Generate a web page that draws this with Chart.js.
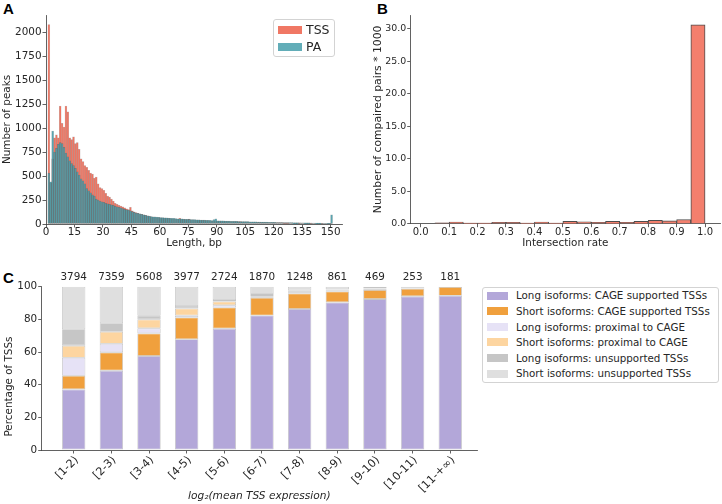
<!DOCTYPE html>
<html>
<head>
<meta charset="utf-8">
<script src="https://cdn.jsdelivr.net/npm/chart.js@4.4.1/dist/chart.umd.min.js"></script>
<style>
body { margin: 0; background: #fff; width: 722px; height: 504px; position: relative; overflow: hidden;
       font-family: 'DejaVu Sans', sans-serif; color: #262626; }
canvas { position: absolute; }
.panel { position: absolute; font: bold 15px 'Liberation Sans', Arial, sans-serif; line-height: 15px; color: #000; }
.legend { position: absolute; background: rgba(255,255,255,0.85); border: 1px solid #d3d3d3; border-radius: 3px; box-sizing: border-box; }
.legend .sw { position: absolute; }
.legend .txt { position: absolute; white-space: nowrap; }
</style>
</head>
<body>
<div class="panel" style="left:3px;top:1px">A</div>
<div class="panel" style="left:377px;top:1px">B</div>
<div class="panel" style="left:3px;top:270px">C</div>

<canvas id="chartA" width="360" height="250" style="left:0;top:0"></canvas>
<canvas id="chartB" width="362" height="250" style="left:360px;top:0"></canvas>
<canvas id="chartC" width="482" height="254" style="left:0;top:250px"></canvas>

<div id="legendA" class="legend" style="left:273px;top:19px;width:62px;height:38px"></div>
<div id="legendC" class="legend" style="left:482px;top:287px;width:237px;height:96px"></div>

<script>
// ---- panel A: peak length histogram (1 bp bins, first bin starts at 1 bp)
const firstLength = 1;
const lengthTicks = [0, 15, 30, 45, 60, 75, 90, 105, 120, 135, 150];
const peakTicks = [0, 250, 500, 750, 1000, 1250, 1500, 1750, 2000];

const tssPeaks = [
    2080, 430, 680, 900, 930, 900, 1230, 1050, 1010, 1230,
    1170, 900, 880, 910, 840, 850, 780, 680, 650, 610,
    590, 560, 530, 520, 480, 490, 420, 380, 370, 350,
    320, 290, 280, 260, 240, 215, 205, 195, 188, 178,
    168, 158, 150, 175, 138, 128, 120, 112, 106, 100,
    96, 90, 85, 80, 76, 73, 70, 68, 66, 64,
    62, 61, 60, 58, 56, 55, 54, 52, 51, 58,
    50, 48, 47, 46, 52, 44, 43, 42, 41, 40,
    39, 38, 37, 36, 35, 34, 33, 32, 32, 31,
    30, 30, 29, 28, 28, 27, 26, 26, 25, 25,
    24, 24, 23, 23, 22, 22, 21, 21, 20, 20,
    19, 19, 18, 18, 17, 17, 16, 16, 16, 15,
    15, 14, 14, 14, 13, 13, 13, 12, 12, 12,
    11, 11, 11, 10, 10, 10, 9, 9, 9, 8,
    8, 8, 7, 7, 7, 6, 6, 6, 5, 4
];
const paPeaks = [
    530, 440, 970, 750, 790, 830, 850, 840, 800, 740,
    700, 660, 630, 610, 580, 545, 510, 470, 450, 420,
    370, 345, 325, 305, 290, 260, 250, 240, 232, 225,
    215, 210, 205, 200, 195, 185, 180, 174, 168, 160,
    152, 148, 145, 138, 130, 122, 115, 110, 105, 100,
    95, 90, 86, 82, 78, 76, 74, 72, 70, 68,
    67, 65, 64, 62, 60, 59, 58, 57, 55, 54,
    53, 52, 50, 49, 48, 47, 46, 45, 44, 43,
    42, 41, 40, 39, 38, 37, 36, 45, 55, 34,
    33, 33, 32, 31, 30, 30, 29, 28, 28, 27,
    26, 26, 25, 25, 24, 24, 23, 23, 22, 22,
    21, 21, 20, 20, 19, 19, 18, 18, 17, 17,
    16, 16, 16, 15, 15, 15, 14, 14, 14, 13,
    13, 13, 12, 12, 12, 11, 11, 11, 10, 10,
    10, 9, 9, 9, 8, 8, 8, 7, 7, 95
];

// ---- panel B: intersection rate histogram (bins of 0.05), thousands of pairs
const rateBinStarts = [0.00, 0.05, 0.10, 0.15, 0.20, 0.25, 0.30, 0.35, 0.40, 0.45,
                       0.50, 0.55, 0.60, 0.65, 0.70, 0.75, 0.80, 0.85, 0.90, 0.95];
const rateBinWidth = 0.05;
const pairCounts = [0, 0.15, 0.25, 0.10, 0.10, 0.20, 0.20, 0.10, 0.25, 0.10,
                    0.35, 0.30, 0.20, 0.35, 0.20, 0.35, 0.50, 0.45, 0.65, 30.6];
const rateTicks = [0, 0.1, 0.2, 0.3, 0.4, 0.5, 0.6, 0.7, 0.8, 0.9, 1.0];
const pairTicks = [0, 5, 10, 15, 20, 25, 30];

// ---- panel C: TSS support by expression level (percent)
const expressionBins = ['[1-2)', '[2-3)', '[3-4)', '[4-5)', '[5-6)', '[6-7)', '[7-8)', '[8-9)', '[9-10)', '[10-11)', '[11-+\u221e)'];
const groupSizes = [3794, 7359, 5608, 3977, 2724, 1870, 1248, 861, 469, 253, 181];
const longCage       = [37.1, 48.6, 57.6, 67.8, 74.3, 82.4, 86.3, 90.4, 92.4, 94.1, 94.5];
const shortCage      = [8.4, 11.2, 13.8, 13.4, 13.0, 10.9, 9.6, 6.7, 5.6, 4.7, 5.3];
const longProximal   = [11.0, 5.3, 3.1, 1.2, 1.3, 0.6, 0.4, 0.5, 0.2, 0.2, 0];
const shortProximal  = [7.4, 7.3, 5.5, 4.3, 2.4, 1.0, 0.6, 0.6, 0.6, 0.2, 0];
const longUnsupported  = [10.0, 5.2, 2.2, 1.5, 0.8, 0.6, 0.7, 0.2, 0.2, 0.2, 0];
const shortUnsupported = [26.1, 22.4, 17.8, 11.8, 8.2, 4.5, 2.4, 1.6, 1.0, 0.6, 0.2];
const percentTicks = [0, 20, 40, 60, 80, 100];

const axisColor = '#3a3a3a';
const textColor = '#262626';
Chart.defaults.font.family = "'DejaVu Sans', sans-serif";
Chart.defaults.font.size = 10.4;
Chart.defaults.color = textColor;

function tickList(values) {
    return s => { s.ticks = values.map(v => ({ value: v })); };
}

function axis(extra) {
    const base = {
        offset: false,
        grid: { display: true, offset: false, drawOnChartArea: false, drawTicks: true, tickLength: 3.5, color: axisColor, lineWidth: 0.8 },
        border: { display: true, color: axisColor, width: 0.8 },
    };
    return Object.assign(base, extra);
}

const noPlugins = { legend: { display: false }, tooltip: { enabled: false } };

// panel A
const tssColor = 'rgba(239,112,92,0.95)';
const paColor = 'rgba(72,160,172,0.86)';
new Chart(document.getElementById('chartA'), {
    type: 'bar',
    data: {
        datasets: [
            {
                label: 'TSS',
                data: tssPeaks.map((v, i) => ({ x: firstLength + i + 0.5, y: v })),
                backgroundColor: tssColor,
                borderColor: 'rgba(90,50,45,0.35)',
                borderWidth: 0.5,
                grouped: false, barPercentage: 1, categoryPercentage: 1,
                order: 1
            },
            {
                label: 'PA',
                data: paPeaks.map((v, i) => ({ x: firstLength + i + 0.5, y: v })),
                backgroundColor: paColor,
                borderColor: 'rgba(40,70,75,0.4)',
                borderWidth: 0.5,
                grouped: false, barPercentage: 1, categoryPercentage: 1,
                order: 0
            }
        ]
    },
    options: {
        responsive: false, animation: false,
        layout: { padding: { top: 15, right: 18, left: 0, bottom: 0 } },
        plugins: noPlugins,
        scales: {
            x: axis({
                type: 'linear', min: 0, max: 156,
                afterFit: s => { s.height = 26; },
                afterBuildTicks: tickList(lengthTicks),
                ticks: { padding: 0, font: { lineHeight: 1 }, callback: v => String(v) },
                title: { display: true, text: 'Length, bp', padding: 0, font: { size: 10.4 } }
            }),
            y: axis({
                type: 'linear', min: 0, max: 2180,
                afterFit: s => { s.width = 46; },
                afterBuildTicks: tickList(peakTicks),
                ticks: { padding: 1, callback: v => String(v) },
                title: { display: true, text: 'Number of peaks', padding: { top: 1, bottom: 0 }, font: { size: 10.4 } }
            })
        }
    }
});

// panel B
new Chart(document.getElementById('chartB'), {
    type: 'bar',
    data: {
        datasets: [{
            label: 'pairs',
            data: pairCounts.map((v, i) => ({ x: rateBinStarts[i] + rateBinWidth / 2, y: v })),
            backgroundColor: '#f37f6d',
            borderColor: '#4d4d4d',
            borderWidth: 1,
            barPercentage: 1, categoryPercentage: 1
        }]
    },
    options: {
        responsive: false, animation: false,
        layout: { padding: { top: 15, right: 2, left: 0, bottom: 0 } },
        plugins: noPlugins,
        scales: {
            x: axis({
                type: 'linear', min: -0.035, max: 1.0525,
                afterFit: s => { s.height = 26.3; },
                afterBuildTicks: tickList(rateTicks),
                ticks: { padding: 0, font: { lineHeight: 1, size: 10 }, callback: v => v.toFixed(1) },
                title: { display: true, text: 'Intersection rate', padding: 0, font: { size: 10.4 } }
            }),
            y: axis({
                type: 'linear', min: 0, max: 32.1,
                afterFit: s => { s.width = 50.7; },
                afterBuildTicks: tickList(pairTicks),
                ticks: { padding: 1, font: { size: 9.4 }, callback: v => v.toFixed(1) },
                title: { display: true, text: 'Number of compaired pairs * 1000', padding: { top: 12, bottom: 0 }, font: { size: 10.8 } }
            })
        }
    }
});

// panel C
const supportSeries = [
    { label: 'Long isoforms: CAGE supported TSSs', values: longCage, color: '#b3a7d9' },
    { label: 'Short isoforms: CAGE supported TSSs', values: shortCage, color: '#f0a03d' },
    { label: 'Long isoforms: proximal to CAGE', values: longProximal, color: '#e6e2f6' },
    { label: 'Short isoforms: proximal to CAGE', values: shortProximal, color: '#fdd5a0' },
    { label: 'Long isoforms: unsupported TSSs', values: longUnsupported, color: '#c6c6c6' },
    { label: 'Short isoforms: unsupported TSSs', values: shortUnsupported, color: '#dfdfdf' }
];

const countLabels = {
    id: 'countLabels',
    afterDatasetsDraw(chart) {
        const { ctx, chartArea, scales } = chart;
        ctx.save();
        ctx.font = "10.4px 'DejaVu Sans', sans-serif";
        ctx.fillStyle = textColor;
        ctx.textAlign = 'center';
        ctx.textBaseline = 'middle';
        groupSizes.forEach((n, i) => {
            ctx.fillText(String(n), scales.x.getPixelForValue(i), chartArea.top - 9.7);
        });
        ctx.restore();
    }
};

new Chart(document.getElementById('chartC'), {
    type: 'bar',
    data: {
        datasets: supportSeries.map(s => ({
            label: s.label,
            data: s.values.map((v, i) => ({ x: i, y: v })),
            backgroundColor: s.color,
            borderColor: 'rgba(150,150,150,0.55)',
            borderWidth: 0.8,
            borderSkipped: false,
            barPercentage: 0.62, categoryPercentage: 1
        }))
    },
    options: {
        responsive: false, animation: false,
        layout: { padding: { top: 36.7, right: 5, left: 0, bottom: 0 } },
        plugins: noPlugins,
        scales: {
            x: axis({
                type: 'linear', stacked: true, min: -0.85, max: 10.71,
                afterFit: s => { s.height = 54; },
                afterBuildTicks: tickList(expressionBins.map((_, i) => i)),
                ticks: { padding: 0, autoSkip: false, maxRotation: 45, minRotation: 45, labelOffset: 3,
                         font: { size: 11.2 }, callback: (v, i) => expressionBins[i] },
                title: { display: true, text: 'log\u2082(mean TSS expression)', padding: { top: 0, bottom: 1.5 },
                         font: { size: 10.6, style: 'italic' } }
            }),
            y: axis({
                type: 'linear', stacked: true, min: 0, max: 100,
                afterFit: s => { s.width = 41.7; },
                afterBuildTicks: tickList(percentTicks),
                ticks: { padding: 1, callback: v => String(v) },
                title: { display: true, text: 'Percentage of TSSs\u2003\u2003\u2003\u2002', padding: { top: 3, bottom: 0 }, font: { size: 10.4 } }
            })
        }
    },
    plugins: [countLabels]
});

// legends
function buildLegend(id, items, opt) {
    const box = document.getElementById(id);
    items.forEach((it, i) => {
        const cy = opt.firstY + i * opt.step;
        const sw = document.createElement('div');
        sw.className = 'sw';
        sw.style.cssText = `left:${opt.swX}px;top:${cy - opt.swH / 2}px;width:${opt.swW}px;height:${opt.swH}px;background:${it.color};`;
        box.appendChild(sw);
        const t = document.createElement('div');
        t.className = 'txt';
        t.textContent = it.label;
        t.style.cssText = `left:${opt.txtX}px;top:${cy - opt.font * 0.6}px;font-size:${opt.font}px;line-height:${opt.font * 1.2}px;`;
        box.appendChild(t);
    });
}

buildLegend('legendA', [{ label: 'TSS', color: tssColor }, { label: 'PA', color: paColor }],
    { firstY: 9.5, step: 17, swX: 4, swW: 24, swH: 8, txtX: 32, font: 12.5 });
buildLegend('legendC', supportSeries.map(s => ({ label: s.label, color: s.color })),
    { firstY: 7.5, step: 15.6, swX: 3.5, swW: 21, swH: 8, txtX: 33, font: 10.3 });
</script>
</body>
</html>
